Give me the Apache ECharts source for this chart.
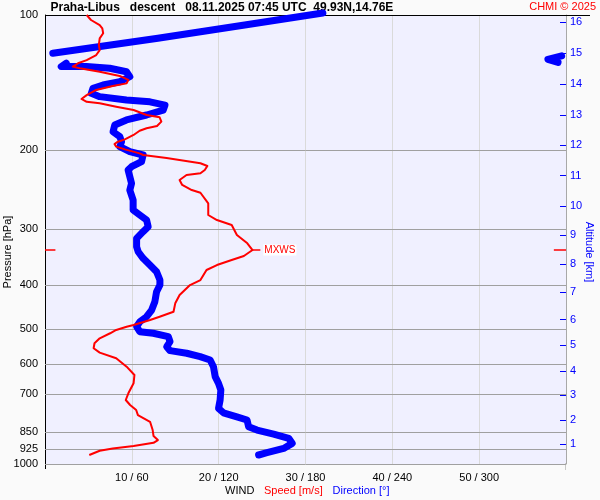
<!DOCTYPE html>
<html><head><meta charset="utf-8">
<script src="https://cdn.jsdelivr.net/npm/echarts@6/dist/echarts.min.js"></script>
<style>html,body{margin:0;padding:0;background:#fafafa}#c{width:600px;height:500px}</style>
</head><body><div id="c"></div>
<script>
// ---- data ----
// wind speed profile (pressure hPa, speed m/s)
const speedP = [100,102.6,105.3,107.1,109.8,112.7,116.6,119.7,122.8,126.0,128.1,130.3,131.4,133.8,136.7,139.5,142.0,143.9,146.9,150.8,153.8,156.1,157.3,160.1,162.8,167.0,169.0,172.8,176.7,178.8,181.0,185.0,189.2,191.5,193.8,196.4,199.2,203.3,205.0,208.3,213.9,216.9,221.4,225.2,227.2,233.1,239.1,245.4,248.8,262.7,278.9,286.2,293.6,309.0,322.5,333.8,344.2,351.3,360.5,369.8,389.3,399.4,420.4,438.7,458.0,469.9,477.9,490.3,494.6,502.9,511.5,524.8,538.4,552.4,565.0,581.5,607.1,633.6,661.1,695.9,720.2,738.9,758.1,778.1,805.3,840.3,866.5,884.5,896.9,912.2,923.1,934.1,954.9];
const speedV = [4.8,5.3,6.3,6.6,6.7,6.3,6.2,6.3,5.9,4.8,3.8,3.2,4.0,6.3,8.6,9.6,9.4,7.8,5.9,4.8,4.2,4.8,6.3,8.2,10.2,11.7,13.2,13.4,12.9,11.7,10.9,10.2,9.2,8.4,8.0,8.2,9.2,10.9,11.3,14.0,17.9,18.7,18.4,17.9,16.3,15.5,15.8,16.9,17.9,18.8,18.8,19.8,21.5,22.1,23.3,23.9,22.9,21.5,19.8,18.6,17.9,16.7,15.5,15.0,14.8,13.2,12.1,10.2,9.4,8.2,7.5,6.3,5.7,5.6,6.3,8.2,9.4,10.3,10.2,9.6,9.3,9.8,10.5,10.7,12.1,12.4,12.5,13.0,12.5,10.2,7.8,6.3,5.1];
// wind direction profile, upper part (pressure hPa, direction deg)
const dirTopP = [99.0,105.3,112.7,121.7];
const dirTopV = [192,138,78,5.4];
// wind direction just below 360 deg (wrapped piece)
const dirWrapP = [123.3,125.5,127.5];
const dirWrapV = [357,347.5,354.5];
// wind direction, main part
const dirP = [128.1,130.3,130.3,131.4,133.8,137.2,140.8,143.2,145.6,149.4,152.0,154.6,156.1,158.7,162.8,167.0,171.3,175.8,182.0,186.6,191.5,196.4,201.6,205.0,212.2,217.7,221.4,229.2,237.1,245.4,258.3,271.8,278.9,286.2,296.2,303.8,314.4,328.1,336.7,348.3,360.5,373.1,389.3,399.4,413.3,435.1,454.0,469.9,482.2,494.6,507.4,511.5,520.5,534.0,547.9,559.2,566.7,576.7,586.6,607.1,639.1,661.1,684.2,720.2,751.6,769.0,784.9,798.0,825.9,840.3,857.6,876.8,899.6,923.1,943.8,954.9];
const dirV = [14.7,11.2,28.6,44.7,56.3,58.6,51.7,40.1,33.2,32.0,37.8,56.3,72.5,82.9,81.7,70.2,56.3,48.2,47.0,51.7,52.9,51.7,58.6,67.8,66.7,59.8,57.4,58.6,59.8,58.6,60.9,60.9,65.5,70.2,71.3,67.8,63.3,63.3,64.4,67.8,72.5,77.1,79.4,79.4,77.1,75.9,73.7,70.2,65.5,63.3,65.5,74.8,85.2,86.4,84.1,86.4,97.9,107.2,114.1,116.4,117.6,119.9,121.5,121.0,119.9,123.3,132.6,139.6,140.7,146.5,158.0,168.4,170.8,164.9,153.4,147.6];
// max wind
const mxwsP = 333.8;
const mxwsV = 23.9;
// axes
const pressureTicks = [100,200,300,400,500,600,700,850,925,1000];
const pressureLines = [200,300,400,500,600,700,850,925,1000];
const speedTicks = [10,20,30,40,50];
const dirTicks = [60,120,180,240,300];
const altKm = [1,2,3,4,5,6,7,8,9,10,11,12,13,14,15,16];
const altP = [903.8,799.4,703.1,621.7,544.0,477.1,414.6,359.2,309.6,266.7,228.0,195.1,167.0,142.7,121.7,103.8];

const FONT = '"Liberation Sans", Arial, Helvetica, sans-serif';
const BLUE = '#0000ff', RED = '#ff0000';
const pairs = (p, v) => p.map((pp, i) => [v[i], pp]);

const chart = echarts.init(document.getElementById('c'), null, {renderer: 'canvas'});
const dirLine = {type: 'line', xAxisIndex: 1, yAxisIndex: 0, symbol: 'none', z: 3,
  lineStyle: {color: BLUE, width: 7, cap: 'round', join: 'round'}, silent: true, clip: false};

chart.setOption({
  animation: false,
  backgroundColor: '#fafafa',
  grid: {left: 45, right: 34, top: 15, bottom: 36, show: true, backgroundColor: '#f0f0ff', borderWidth: 0},
  xAxis: [
    {type: 'value', min: 0, max: 60, interval: 10, position: 'bottom',
     axisLine: {show: false, onZero: false}, axisTick: {show: false},
     splitLine: {show: true, lineStyle: {color: '#dadada', width: 1}},
     axisLabel: {customValues: speedTicks, color: '#000', fontSize: 11, fontFamily: FONT, margin: 8,
       formatter: v => { const i = speedTicks.indexOf(Math.round(v)); return Math.round(v) + ' / ' + (i >= 0 ? dirTicks[i] : Math.round(v * 6)); }}},
    {type: 'value', min: 0, max: 360, show: false, axisLine: {onZero: false}}
  ],
  yAxis: [
    {type: 'log', logBase: 10, min: 100, max: 1000, inverse: true, position: 'left',
     axisLine: {show: true, onZero: false, lineStyle: {color: '#000', width: 1}},
     axisTick: {show: false}, splitLine: {show: false},
     axisLabel: {customValues: pressureTicks, color: '#000', fontSize: 11, fontFamily: FONT, margin: 7,
       formatter: v => String(Math.round(v))}},
    {type: 'log', logBase: 10, min: 100, max: 1000, inverse: true, position: 'right',
     axisLine: {show: true, onZero: false, lineStyle: {color: '#a8a8a8', width: 1}},
     axisTick: {show: true, inside: true, length: 6, customValues: altP, lineStyle: {color: BLUE, width: 1}},
     splitLine: {show: false},
     axisLabel: {customValues: altP, color: BLUE, fontSize: 11, fontFamily: FONT, margin: 4,
       formatter: v => { let bi = 0; altP.forEach((p, i) => { if (Math.abs(p - v) < Math.abs(altP[bi] - v)) bi = i; }); return String(altKm[bi]); }}}
  ],
  series: [
    Object.assign({}, dirLine, {name: 'dirMain', data: pairs(dirP, dirV),
      markLine: {silent: true, z: 1, symbol: ['none', 'none'], label: {show: false},
        lineStyle: {color: '#a0a0a0', width: 1, type: 'solid'},
        data: pressureLines.map(v => ({yAxis: v}))}}),
    Object.assign({}, dirLine, {name: 'dirTop', data: pairs(dirTopP, dirTopV)}),
    Object.assign({}, dirLine, {name: 'dirWrap', data: pairs(dirWrapP, dirWrapV)}),
    {type: 'line', name: 'speed', xAxisIndex: 0, yAxisIndex: 0, symbol: 'none', z: 5, silent: true,
     lineStyle: {color: RED, width: 2, join: 'round'}, data: pairs(speedP, speedV),
     markLine: {silent: true, z: 6, symbol: ['none', 'none'], label: {show: false},
       lineStyle: {color: RED, width: 1.5, type: 'solid'},
       data: [
         [{coord: [0, mxwsP]}, {coord: [1.2, mxwsP]}],
         [{coord: [58.6, mxwsP]}, {coord: [60, mxwsP]}],
         [{coord: [mxwsV, mxwsP], label: {show: true, position: 'end', formatter: 'MXWS', color: RED,
            fontSize: 10, fontFamily: FONT, backgroundColor: '#ffffff', padding: [1, 1, 0, 1], distance: 3}},
          {coord: [mxwsV + 0.9, mxwsP]}]
       ]}}
  ],
  graphic: [
    {type: 'line', z: 1, shape: {x1: 45, y1: 15.5, x2: 590, y2: 15.5}, style: {stroke: '#000', lineWidth: 1}},
    {type: 'line', z: 1, shape: {x1: 45.5, y1: 463, x2: 45.5, y2: 469}, style: {stroke: '#000', lineWidth: 1}},
    {type: 'line', z: 1, shape: {x1: 565.5, y1: 463, x2: 565.5, y2: 470}, style: {stroke: '#c8c8c8', lineWidth: 1}},
    {type: 'text', x: 50.5, y: 8, style: {text: 'Praha-Libus   descent   08.11.2025 07:45 UTC  49.93N,14.76E',
      fontSize: 12, fontWeight: 'bold', fontFamily: FONT, fill: '#000', align: 'left', verticalAlign: 'middle'}},
    {type: 'text', x: 596, y: 7, style: {text: 'CHMI © 2025', fontSize: 11, fontFamily: FONT, fill: RED, align: 'right', verticalAlign: 'middle'}},
    {type: 'text', x: 8, y: 252, rotation: Math.PI / 2, style: {text: 'Pressure [hPa]', fontSize: 11, fontFamily: FONT, fill: '#000', align: 'center', verticalAlign: 'middle'}},
    {type: 'text', x: 589.5, y: 252, rotation: -Math.PI / 2, style: {text: 'Altitude [km]', fontSize: 11, fontFamily: FONT, fill: BLUE, align: 'center', verticalAlign: 'middle'}},
    {type: 'text', x: 225, y: 491, style: {text: 'WIND', fontSize: 11, fontFamily: FONT, fill: '#000', align: 'left', verticalAlign: 'middle'}},
    {type: 'text', x: 264, y: 491, style: {text: 'Speed [m/s]', fontSize: 11, fontFamily: FONT, fill: RED, align: 'left', verticalAlign: 'middle'}},
    {type: 'text', x: 332.5, y: 491, style: {text: 'Direction [°]', fontSize: 11, fontFamily: FONT, fill: BLUE, align: 'left', verticalAlign: 'middle'}}
  ]
});
</script></body></html>
